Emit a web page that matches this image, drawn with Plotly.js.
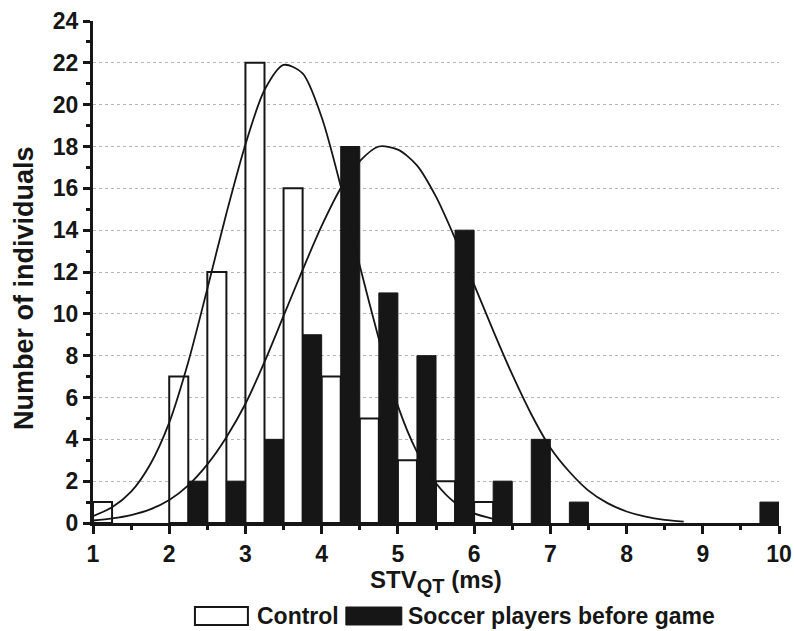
<!DOCTYPE html>
<html>
<head>
<meta charset="utf-8">
<script src="https://cdn.plot.ly/plotly-3.0.1.min.js"></script>
<style>
html,body{margin:0;padding:0;background:#fff;}
#chart{width:794px;height:631px;}
</style>
</head>
<body>
<div id="chart"></div>
<script>
// Histogram bins (bin start, 0.5-wide bins split into two halves)
const controlBins = [1.0, 2.0, 2.5, 3.0, 3.5, 4.0, 4.5, 5.0, 5.5, 6.0];
const controlCounts = [1, 7, 12, 22, 16, 7, 5, 3, 2, 1];
const soccerBins = [2.0, 2.5, 3.0, 3.5, 4.0, 4.5, 5.0, 5.5, 6.0, 6.5, 7.0, 9.5];
const soccerCounts = [2, 2, 4, 9, 18, 11, 8, 14, 2, 4, 1, 1];

// Fitted curves
const controlFitX = [1.0, 1.25, 1.5, 1.75, 2.0, 2.25, 2.5, 2.75, 3.0, 3.25, 3.5, 3.75, 4.0, 4.25, 4.5, 4.75, 5.0, 5.25, 5.5, 5.75, 6.0, 6.25];
const controlFitY = [0.33, 0.75, 1.5, 2.8, 4.8, 7.7, 11.2, 14.8, 18.1, 20.7, 21.9, 21.5, 19.4, 16.1, 12.3, 8.8, 5.6, 3.4, 1.9, 0.97, 0.46, 0.2];
const soccerFitX = [1.0, 1.25, 1.5, 1.75, 2.0, 2.25, 2.5, 2.75, 3.0, 3.25, 3.5, 3.75, 4.0, 4.25, 4.5, 4.75, 5.0, 5.25, 5.5, 5.75, 6.0, 6.25, 6.5, 6.75, 7.0, 7.25, 7.5, 7.75, 8.0, 8.25, 8.5, 8.75];
const soccerFitY = [0.12, 0.22, 0.38, 0.65, 1.1, 1.8, 2.8, 4.1, 5.7, 7.7, 9.9, 12.1, 14.2, 16.0, 17.3, 18.0, 17.85, 17.1, 15.6, 13.6, 11.4, 9.2, 7.1, 5.2, 3.6, 2.45, 1.55, 0.95, 0.55, 0.3, 0.15, 0.07];

const gridVals = [2, 4, 6, 8, 10, 12, 14, 16, 18, 20, 22];
const legendLabels = ['Control', 'Soccer players before game'];
const yTitle = 'Number of individuals';
const xTitle = 'STV<sub><span style="font-size:20px">QT</span></sub> (ms)';

const FONT = 'Liberation Sans, Arial, sans-serif';
const BLACK = '#161616';

const traces = [
  {type:'scatter', mode:'lines', x:[1,10], y:[0,0], yaxis:'y2', line:{width:0}, showlegend:false, hoverinfo:'skip'},
  {type:'bar', x: controlBins, y: controlCounts, width: 0.25, offset: 0,
   marker:{color:'#ffffff', line:{color:BLACK, width:2}}, name: legendLabels[0], showlegend:false, hoverinfo:'skip'},
  {type:'bar', x: soccerBins, y: soccerCounts, width: 0.25, offset: 0.25,
   marker:{color:BLACK, line:{color:BLACK, width:1}}, name: legendLabels[1], showlegend:false, hoverinfo:'skip'},
  {type:'scatter', mode:'lines', x: controlFitX, y: controlFitY, line:{color:BLACK, width:1.8, shape:'spline', smoothing:0.8}, showlegend:false, hoverinfo:'skip'},
  {type:'scatter', mode:'lines', x: soccerFitX, y: soccerFitY, line:{color:BLACK, width:1.8, shape:'spline', smoothing:0.8}, showlegend:false, hoverinfo:'skip'}
];

const L = 93, R = 779.4, T = 21, B = 523;
const px = v => (v - L) / (R - L);
const py = v => (B - v) / (B - T);

const layout = {
  width: 794, height: 631,
  margin: {l: L, r: 794 - R, t: T, b: 631 - B, pad: 0},
  paper_bgcolor: '#fff', plot_bgcolor: 'rgba(0,0,0,0)',
  barmode: 'overlay',
  showlegend: false,
  font: {family: FONT, color: BLACK},
  xaxis: {
    range: [1, 10], tick0: 1, dtick: 1, ticks: 'outside', ticklen: 8, tickwidth: 3, tickcolor: BLACK,
    showline: true, linewidth: 3, linecolor: BLACK, showgrid: false, zeroline: false,
    tickfont: {family: FONT, size: 23, weight: 700, color: BLACK},
    minor: {dtick: 0.5, tick0: 1, ticks: 'outside', ticklen: 4, tickwidth: 3, tickcolor: BLACK, showgrid: false},
    layer: 'above traces'
  },
  yaxis: {
    range: [0, 24], tick0: 0, dtick: 2, ticks: 'outside', ticklen: 7, tickwidth: 3, tickcolor: BLACK,
    showline: true, linewidth: 3, linecolor: BLACK, showgrid: false, zeroline: false,
    tickfont: {family: FONT, size: 23, weight: 700, color: BLACK},
    minor: {dtick: 1, tick0: 0, ticks: 'outside', ticklen: 4, tickwidth: 3, tickcolor: BLACK, showgrid: false},
    layer: 'above traces'
  },
  yaxis2: {
    overlaying: 'y', range: [0, 24], tickvals: gridVals, showticklabels: false, ticks: '',
    showgrid: true, gridcolor: '#b4b4b4', griddash: 'dot', gridwidth: 1, zeroline: false, showline: false
  },
  shapes: [
    {type:'rect', xref:'paper', yref:'paper', x0: px(195), x1: px(248), y0: py(607), y1: py(625), fillcolor:'#fff', line:{color:BLACK, width:2}},
    {type:'rect', xref:'paper', yref:'paper', x0: px(346), x1: px(402), y0: py(607), y1: py(625), fillcolor:BLACK, line:{color:BLACK, width:1}}
  ],
  annotations: [
    {xref:'paper', yref:'paper', x: 0.5, y: py(565), xanchor:'center', yanchor:'top', borderpad:0, showarrow:false, text: xTitle, font:{family: FONT, size: 24, weight: 700, color: BLACK}},
    {xref:'paper', yref:'paper', x: px(24), y: py(288), xanchor:'center', yanchor:'middle', textangle:-90, showarrow:false, text: yTitle, font:{family: FONT, size: 27, weight: 700, color: BLACK}},
    {xref:'paper', yref:'paper', x: px(255), y: py(616), xanchor:'left', yanchor:'middle', showarrow:false, text: legendLabels[0], font:{family: FONT, size: 23, weight: 700, color: BLACK}},
    {xref:'paper', yref:'paper', x: px(406), y: py(616), xanchor:'left', yanchor:'middle', showarrow:false, text: legendLabels[1], font:{family: FONT, size: 23, weight: 700, color: BLACK}}
  ]
};

Plotly.newPlot('chart', traces, layout, {staticPlot: true, displayModeBar: false});
</script>
</body>
</html>
